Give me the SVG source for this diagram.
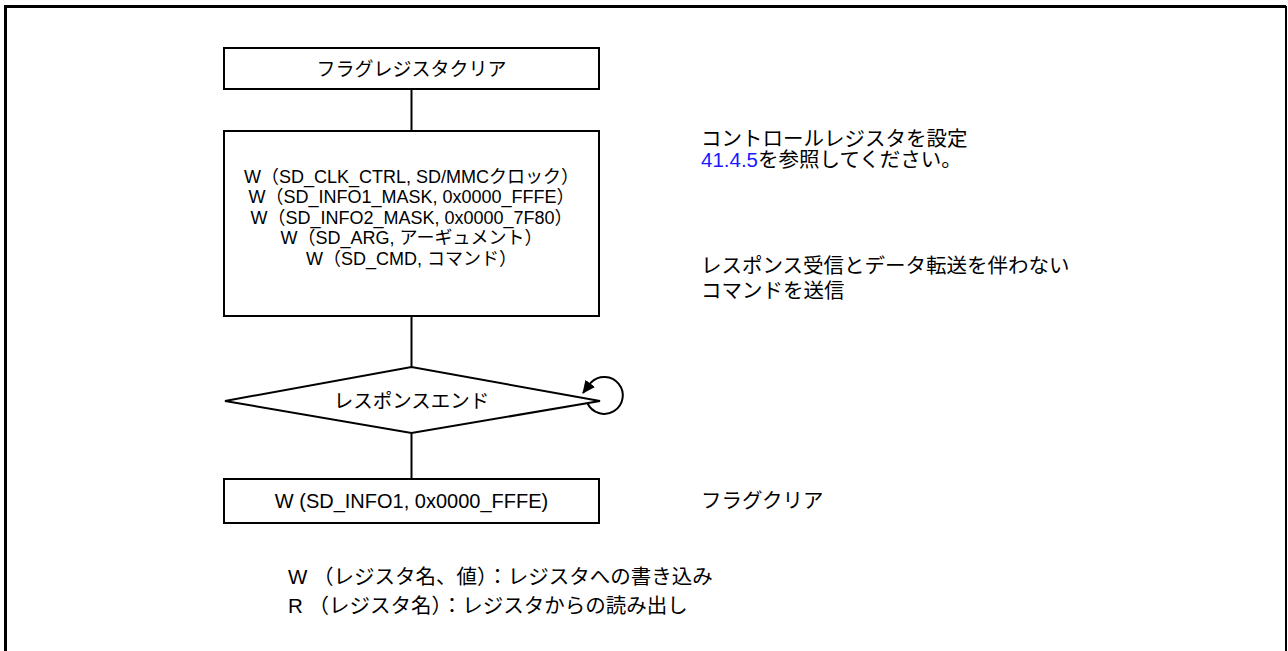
<svg xmlns="http://www.w3.org/2000/svg" width="1288" height="651" viewBox="0 0 1288 651">
<style>
.t{font-family:"Liberation Sans","Noto Sans CJK JP",sans-serif;fill:#000}
.c{text-anchor:middle}
.box{fill:#fff;stroke:#000;stroke-width:2}
.ln{stroke:#000;stroke-width:2;fill:none}
</style>
<defs>
<marker id="ah" markerWidth="13" markerHeight="12" refX="12" refY="6" orient="auto" markerUnits="userSpaceOnUse" viewBox="0 0 13 12">
<path d="M0,0 L13,6 L0,12 z" fill="#000"/>
</marker>
</defs>
<rect width="1288" height="651" fill="#fff"/>
<g id="frame">
<path d="M5.5,651 V6.5 H1286" fill="none" stroke="#000" stroke-width="3"/>
<path d="M1286,6 V651" fill="none" stroke="#000" stroke-width="2"/>
</g>
<g id="connectors">
<path class="ln" d="M411.5,89 V131"/>
<path class="ln" d="M411.5,316 V367"/>
<path class="ln" d="M411.5,433 V479"/>
<path class="ln" d="M587.4,403 A18.5 18.5 0 1 0 591,382.5 L583,393" marker-end="url(#ah)"/>
</g>
<g id="n1">
<rect class="box" x="224" y="48" width="375" height="41"/>
<text class="t c" x="411.5" y="75.5" font-size="19">フラグレジスタクリア</text>
</g>
<g id="n2">
<rect class="box" x="224" y="131" width="375" height="185"/>
<text class="t c" x="411.5" y="182.5" font-size="18">W（SD_CLK_CTRL, SD/MMCクロック）</text>
<text class="t c" x="411.5" y="203" font-size="18">W（SD_INFO1_MASK, 0x0000_FFFE）</text>
<text class="t c" x="411.5" y="223.5" font-size="18">W（SD_INFO2_MASK, 0x0000_7F80）</text>
<text class="t c" x="411.5" y="244" font-size="18">W（SD_ARG, アーギュメント）</text>
<text class="t c" x="411.5" y="264.5" font-size="18">W（SD_CMD, コマンド）</text>
</g>
<g id="n3">
<polygon class="box" points="225,401 411.5,367 600,401 411.5,433"/>
<text class="t c" x="411.5" y="408" font-size="19.5">レスポンスエンド</text>
</g>
<g id="n4">
<rect class="box" x="224" y="479" width="375" height="44"/>
<text class="t c" x="411.5" y="508" font-size="20">W (SD_INFO1, 0x0000_FFFE)</text>
</g>
<g id="notes">
<text class="t" x="701" y="146" font-size="20.5">コントロールレジスタを設定</text>
<text class="t" x="701" y="167" font-size="20.5"><tspan fill="#1a1aff">41.4.5</tspan>を参照してください。</text>
<text class="t" x="701" y="273" font-size="20.5">レスポンス受信とデータ転送を伴わない</text>
<text class="t" x="701" y="298" font-size="20.5">コマンドを送信</text>
<text class="t" x="701" y="508" font-size="20.5">フラグクリア</text>
<text class="t" x="288" y="584" font-size="20.5">W （レジスタ名、値）：レジスタへの書き込み</text>
<text class="t" x="288" y="613" font-size="20.5">R （レジスタ名）：レジスタからの読み出し</text>
</g>
</svg>
